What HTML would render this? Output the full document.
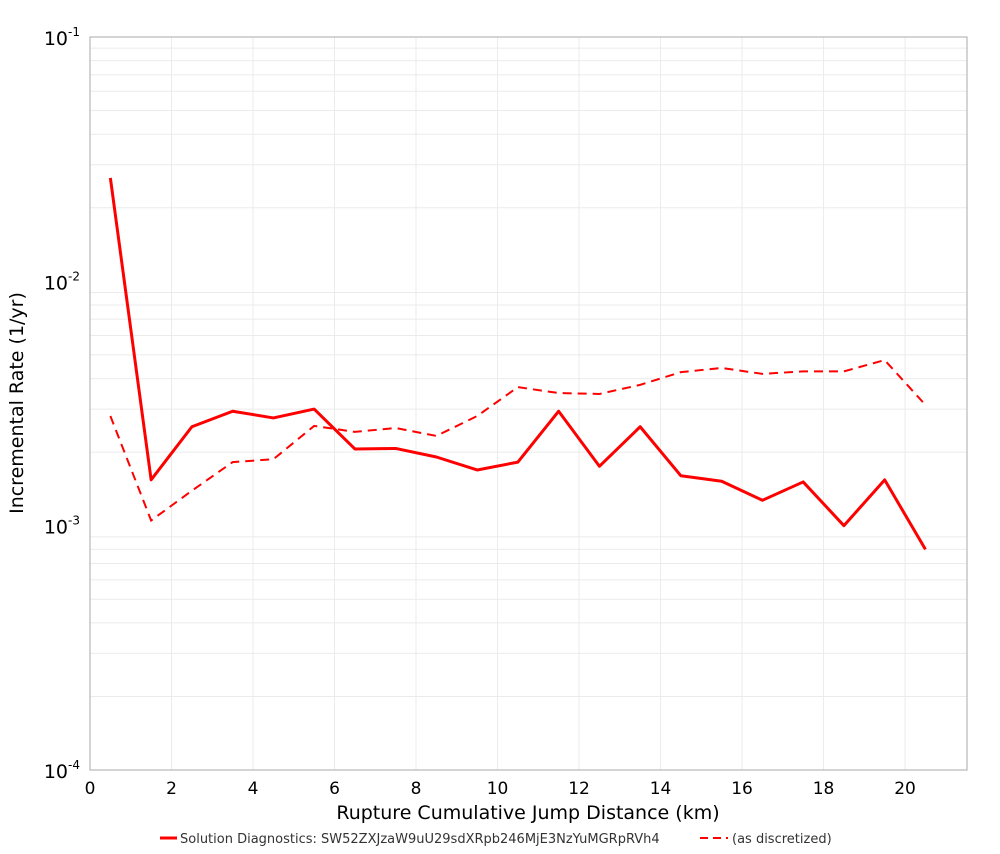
<!DOCTYPE html>
<html><head><meta charset="utf-8"><style>
body{margin:0;background:#fff;font-family:"DejaVu Sans","Liberation Sans",sans-serif}
svg text{font-family:"DejaVu Sans","Liberation Sans",sans-serif}
</style></head><body>
<svg id="chart" width="1000" height="850" xmlns="http://www.w3.org/2000/svg">
<g id="grid"></g>
<g id="axes"></g>
<g id="series"></g>
<text x="528" y="819" font-size="19" text-anchor="middle" fill="#000">Rupture Cumulative Jump Distance (km)</text>
<text transform="translate(23,403) rotate(-90)" font-size="19" text-anchor="middle" fill="#000">Incremental Rate (1/yr)</text>
<g>
<line x1="160" y1="838" x2="177" y2="838" stroke="#f00" stroke-width="3"/>
<text x="180" y="843" font-size="13" fill="#333">Solution Diagnostics: SW52ZXJzaW9uU29sdXRpb246MjE3NzYuMGRpRVh4</text>
<line x1="700" y1="838" x2="728" y2="838" stroke="#f00" stroke-width="2" stroke-dasharray="8,5"/>
<text x="732" y="843" font-size="13" fill="#333">(as discretized)</text>
</g>
</svg>
<script>
const xValues=[0.5,1.5,2.5,3.5,4.5,5.5,6.5,7.5,8.5,9.5,10.5,11.5,12.5,13.5,14.5,15.5,16.5,17.5,18.5,19.5,20.5];
const solidValues=[0.0265,0.00154,0.00254,0.00294,0.00276,0.0030,0.00206,0.00207,0.00191,0.00169,0.00182,0.00294,0.00175,0.00254,0.0016,0.00152,0.00127,0.00151,0.0010,0.00154,0.0008];
const dashedValues=[0.00281,0.00105,0.00139,0.00182,0.00187,0.00256,0.00242,0.00251,0.00233,0.00281,0.00369,0.00349,0.00346,0.00377,0.00425,0.00442,0.00418,0.00428,0.00428,0.00476,0.00312];
const xTicks=[0,2,4,6,8,10,12,14,16,18,20];
const yDecades=[-4,-3,-2,-1];
const L=90,R=967,T=37,B=770,XMAX=21.52;
const NS="http://www.w3.org/2000/svg";
function sx(v){return L+v/XMAX*(R-L);}
function sy(v){return T+(-1-Math.log10(v))/3*(B-T);}
function mk(tag,attrs,parent){const e=document.createElementNS(NS,tag);for(const k in attrs)e.setAttribute(k,attrs[k]);parent.appendChild(e);return e;}
const grid=document.getElementById('grid'),axes=document.getElementById('axes'),series=document.getElementById('series');
for(const t of xTicks){
 const g=mk('line',{x1:sx(t),x2:sx(t),y1:T,y2:B,stroke:'#ebebeb','stroke-width':1},grid);
 
 
 const tx=mk('text',{x:sx(t),y:B+24,'font-size':17,'text-anchor':'middle',fill:'#000'},axes);
 tx.textContent=t;
 
 
}
for(const d of yDecades){
 if(d<-1){for(let m=2;m<=9;m++){const v=m*Math.pow(10,d);
  const g=mk('line',{x1:L,x2:R,y1:sy(v),y2:sy(v),stroke:'#ebebeb','stroke-width':1},grid);
  
  }}
 const tx=mk('text',{x:L-10,y:sy(Math.pow(10,d))+8,'font-size':19,'text-anchor':'end',fill:'#000'},axes);
 tx.innerHTML='10<tspan dy="-9" font-size="12">'+d+'</tspan>';
 
 
}
const fr=mk('rect',{x:L,y:T,width:R-L,height:B-T,fill:'none',stroke:'#aaa','stroke-width':1},axes);


function pts(vals){return xValues.map((x,i)=>sx(x)+','+sy(vals[i])).join(' ');}
const d=mk('polyline',{points:pts(dashedValues),fill:'none',stroke:'#f00','stroke-width':2,'stroke-dasharray':'9,6'},series);


const s=mk('polyline',{points:pts(solidValues),fill:'none',stroke:'#f00','stroke-width':3,'stroke-linejoin':'round'},series);


</script>
</body></html>
